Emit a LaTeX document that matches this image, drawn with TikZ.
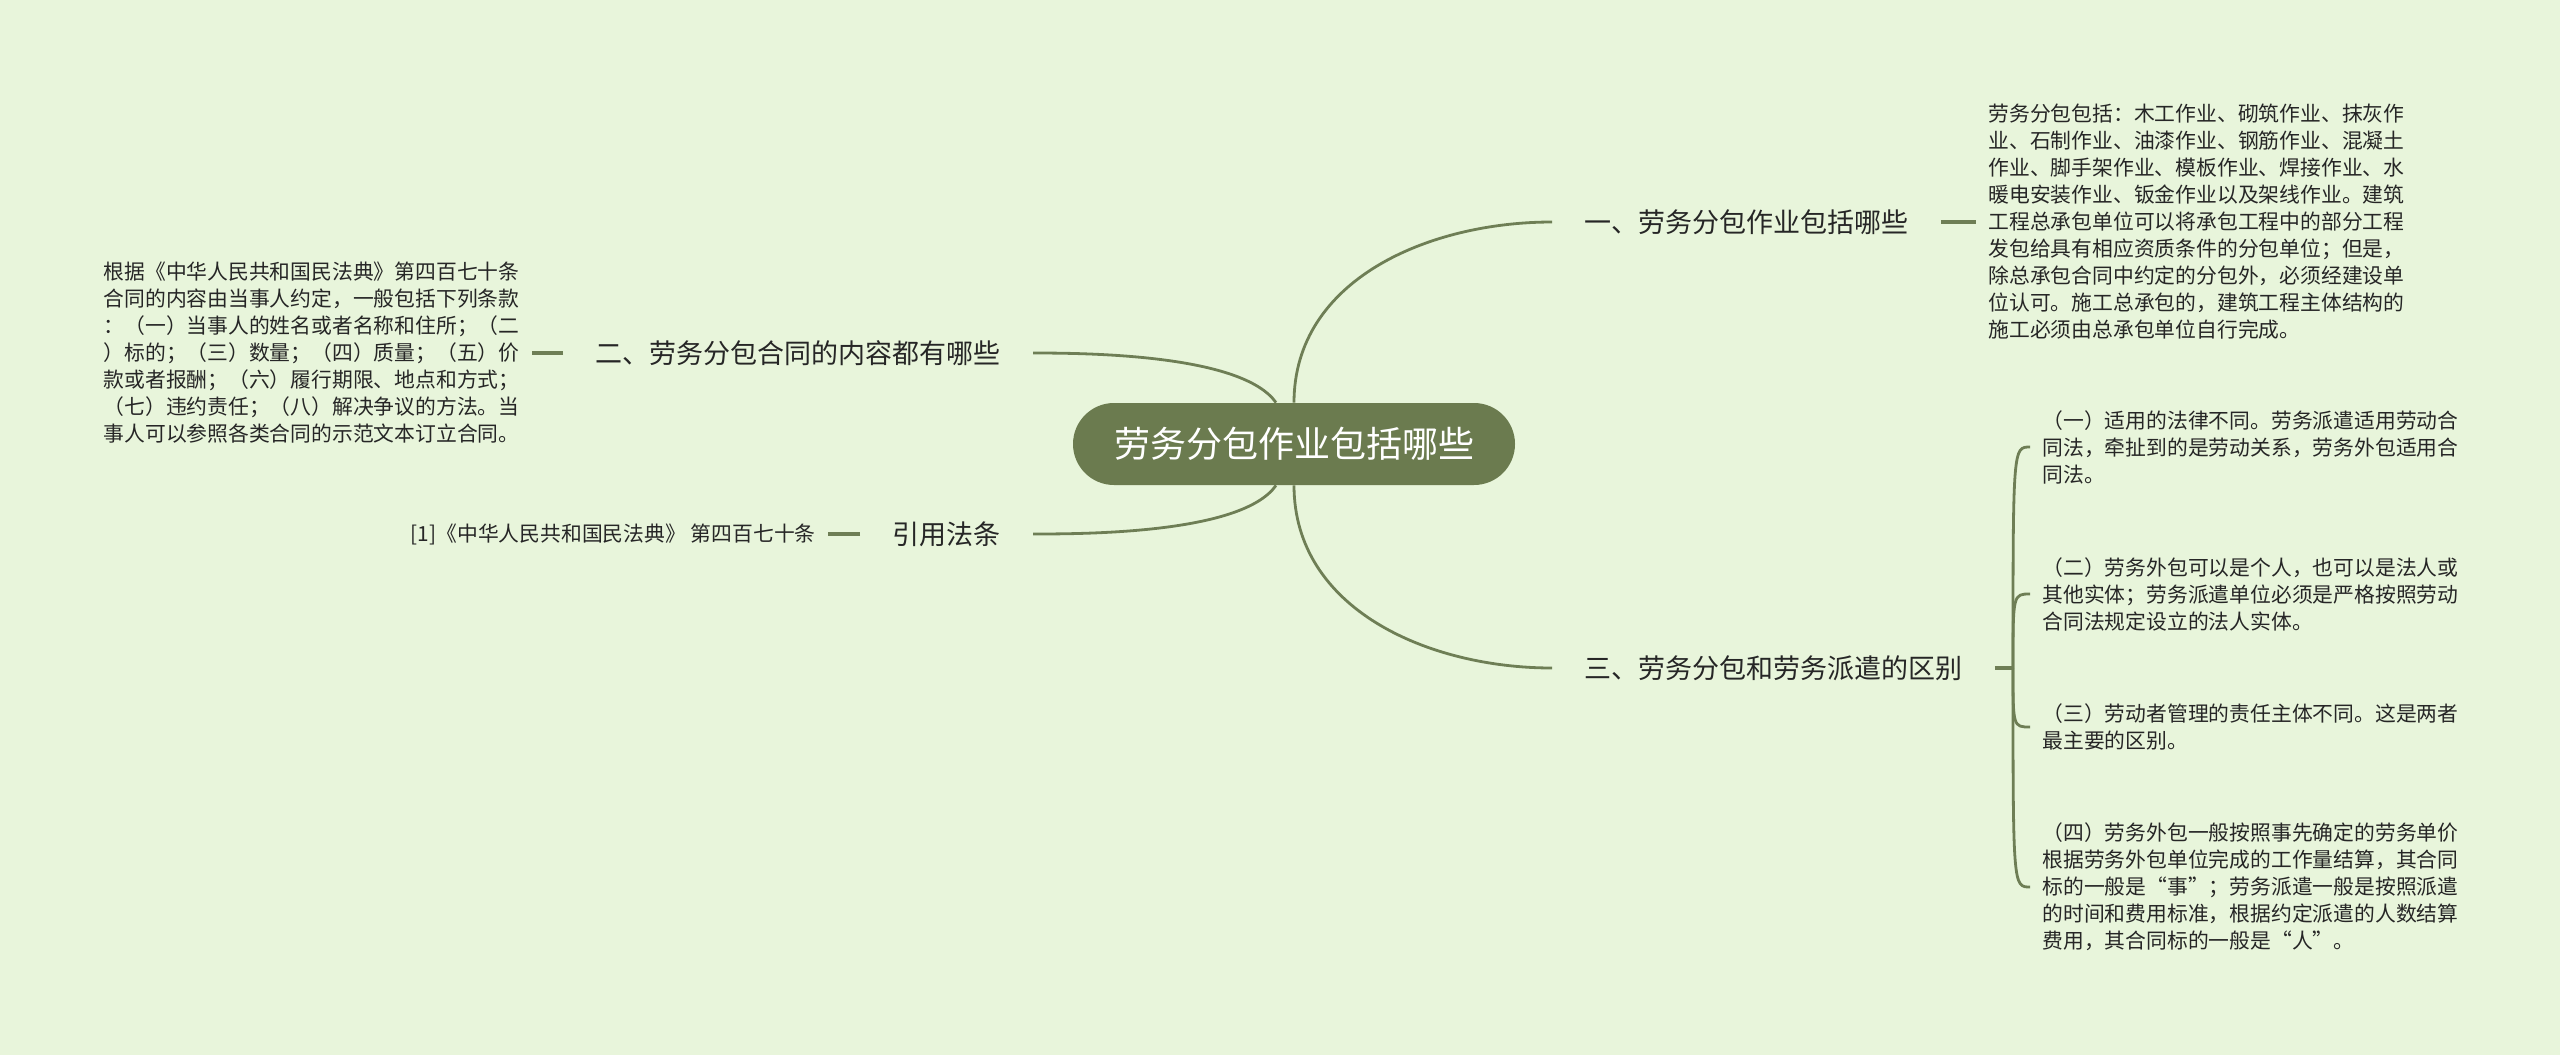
\documentclass[tikz,border=0pt]{standalone}
\usepackage{fontspec}
\setmainfont{Noto Sans CJK SC}
\usepackage{tikz}

\definecolor{paper}{HTML}{E8F5DB}
\definecolor{olive}{HTML}{6B7B4F}
\definecolor{twig}{HTML}{6E7E55}

\tikzset{
  topic/.style={fill=olive,rounded corners=20.5pt,minimum width=221pt,minimum height=41pt,
    text=white,font=\fontsize{18}{20}\selectfont},
  branch/.style={inner xsep=16pt,inner ysep=2pt,text=black!85,font=\fontsize{13.5}{16}\selectfont},
  detail/.style={inner xsep=6pt,inner ysep=2pt,align=left,text=black!85,font=\fontsize{10.4}{13.5}\selectfont},
  link/.style={draw=twig,line width=1.4pt},
  stub/.style={draw=twig,line width=2pt}
}

\begin{document}
\begin{tikzpicture}[x=0.5pt,y=-0.5pt]
\fill[paper] (0,0) rectangle (2560,1055);
\useasboundingbox (0,0) rectangle (2560,1055);

\node[topic] (root) at (1294,444) {劳务分包作业包括哪些};

% main branches
\node[branch,anchor=west] (work) at (1552,222) {一、劳务分包作业包括哪些};
\node[branch,anchor=east] (contract) at (1033,353) {二、劳务分包合同的内容都有哪些};
\node[branch,anchor=east] (law) at (1033,534) {引用法条};
\node[branch,anchor=west] (diff) at (1552,668) {三、劳务分包和劳务派遣的区别};

\draw[link] (root.north) to[out=90,in=180] (work.west);
\draw[link] ([xshift=-9pt]root.north) to[out=125,in=0,looseness=0.6] (contract.east);
\draw[link] ([xshift=-9pt]root.south) to[out=-125,in=0,looseness=0.6] (law.east);
\draw[link] (root.south) to[out=-90,in=180] (diff.west);

% details
\node[detail,anchor=west] (workinfo) at (1976,222) {劳务分包包括：木工作业、砌筑作业、抹灰作\\
业、石制作业、油漆作业、钢筋作业、混凝土\\
作业、脚手架作业、模板作业、焊接作业、水\\
暖电安装作业、钣金作业以及架线作业。建筑\\
工程总承包单位可以将承包工程中的部分工程\\
发包给具有相应资质条件的分包单位；但是，\\
除总承包合同中约定的分包外，必须经建设单\\
位认可。施工总承包的，建筑工程主体结构的\\
施工必须由总承包单位自行完成。};
\node[detail,anchor=east] (contractinfo) at (532,353) {根据《中华人民共和国民法典》第四百七十条\\
合同的内容由当事人约定，一般包括下列条款\\
：（一）当事人的姓名或者名称和住所；（二\\
）标的；（三）数量；（四）质量；（五）价\\
款或者报酬；（六）履行期限、地点和方式；\\
（七）违约责任；（八）解决争议的方法。当\\
事人可以参照各类合同的示范文本订立合同。};
\node[detail,anchor=east] (lawinfo) at (828,534) {[1]《中华人民共和国民法典》 第四百七十条};

\draw[stub] (work) -- (workinfo);
\draw[stub] (contract) -- (contractinfo);
\draw[stub] (law) -- (lawinfo);

% differences
\coordinate (fork) at (2013,668);
\draw[stub] (diff.east) -- (fork);
\node[detail,anchor=west] (diff1) at (2030,447) {（一）适用的法律不同。劳务派遣适用劳动合\\
同法，牵扯到的是劳动关系，劳务外包适用合\\
同法。};
\node[detail,anchor=west] (diff2) at (2030,594) {（二）劳务外包可以是个人，也可以是法人或\\
其他实体；劳务派遣单位必须是严格按照劳动\\
合同法规定设立的法人实体。};
\node[detail,anchor=west] (diff3) at (2030,727) {（三）劳动者管理的责任主体不同。这是两者\\
最主要的区别。};
\node[detail,anchor=west] (diff4) at (2030,887) {（四）劳务外包一般按照事先确定的劳务单价\\
根据劳务外包单位完成的工作量结算，其合同\\
标的一般是“事”；劳务派遣一般是按照派遣\\
的时间和费用标准，根据约定派遣的人数结算\\
费用，其合同标的一般是“人”。};

\foreach \leaf in {diff1,diff2,diff3,diff4}
  \draw[link] (fork) .. controls (fork |- \leaf.west) .. (\leaf.west);
\end{tikzpicture}
\end{document}
